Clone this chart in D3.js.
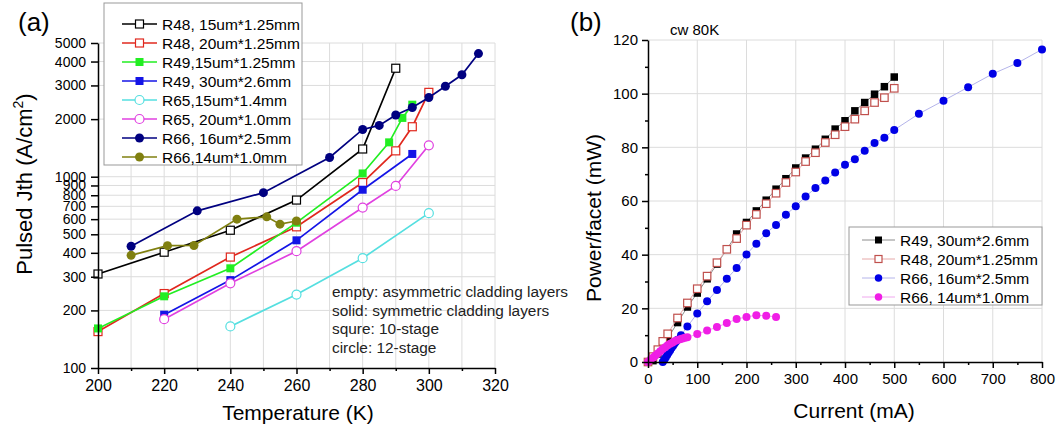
<!DOCTYPE html>
<html>
<head>
<meta charset="utf-8">
<script src="https://cdn.jsdelivr.net/npm/d3@7"></script>
<style>
body { margin: 0; background: #fff; }
text { font-family: "Liberation Sans", Arial, sans-serif; }
</style>
</head>
<body>
<svg id="chart" width="1057" height="429"></svg>
<script>
// ===== panel (a) : pulsed threshold vs temperature
var r48a_T = [200, 220, 240, 260, 280, 290];
var r48a_J = [310, 403, 525, 755, 1396, 3690];
var r48b_T = [200, 220, 240, 260, 280, 290, 295, 300];
var r48b_J = [155, 245, 380, 547, 932, 1365, 1825, 2760];
var r49a_T = [200, 220, 240, 260, 280, 288, 292, 295];
var r49a_J = [161, 237, 332, 575, 1040, 1512, 2029, 2380];
var r49b_T = [220, 240, 260, 280, 295];
var r49b_J = [190, 288, 465, 855, 1315];
var r65a_T = [240, 260, 280, 300];
var r65a_J = [165, 242, 375, 645];
var r65b_T = [220, 240, 260, 280, 290, 300];
var r65b_J = [180, 277, 408, 690, 895, 1459];
var r66a_T = [210, 230, 250, 270, 280, 285, 290, 295, 300, 305, 310, 315];
var r66a_J = [433, 663, 825, 1260, 1766, 1854, 2103, 2299, 2596, 2970, 3411, 4402];
var r66b_T = [210, 221, 229, 242, 251, 255, 260];
var r66b_J = [388, 436, 437, 600, 617, 565, 587];

var tempTicks = [200, 220, 240, 260, 280, 300, 320];
var jthTicks = [100, 200, 300, 400, 500, 600, 700, 800, 900, 1000, 2000, 3000, 4000, 5000];
var notes = ["empty: asymmetric cladding layers", "solid: symmetric cladding layers",
             "squre: 10-stage", "circle:  12-stage"];

// ===== panel (b) : cw power vs current at 80K
var b49_I = [10, 20, 30, 40, 60, 80, 100, 120, 140, 160, 180, 200, 220, 240, 260, 280, 300, 320, 340, 360, 380, 400, 420, 440, 460, 480, 500];
var b49_P = [0.5, 3, 5.8, 8.8, 14.7, 20.5, 25.7, 31, 36.5, 42, 47.7, 52, 56.3, 60.3, 64.4, 68.3, 72.3, 76, 79.3, 83, 86.8, 89.9, 93.6, 96.7, 99.8, 102.6, 106.2];
var b48_I = [0, 10, 20, 30, 40, 60, 80, 100, 120, 140, 160, 180, 200, 220, 240, 260, 280, 300, 320, 340, 360, 380, 400, 420, 440, 460, 480, 500];
var b48_P = [0, 2, 4.6, 7.7, 10.5, 16.4, 22, 27.3, 32, 37, 42, 46, 51, 55, 59, 62.9, 66.9, 70.8, 74.7, 78, 81.8, 84.7, 87.7, 90.5, 93.6, 96.7, 98.5, 102];
var b66a_I = [30, 33, 36, 39, 42, 45, 48, 51, 54, 57, 60, 67, 80, 100, 120, 140, 160, 180, 200, 220, 240, 260, 280, 300, 320, 340, 360, 380, 400, 420, 440, 460, 480, 500, 550, 600, 650, 700, 750, 800];
var b66a_P = [0, 0.8, 1.7, 2.6, 3.5, 4.4, 5.3, 6.1, 6.9, 7.6, 8.3, 10, 13.2, 18.1, 22.6, 26.8, 31, 35, 40.1, 44.1, 48, 51.1, 54.9, 58, 61.7, 64.8, 67.6, 70.6, 73.5, 75.6, 78.7, 81.6, 83.6, 86.5, 92.5, 97.4, 102.4, 107.4, 111.4, 116.5];
var b66b_I = [0, 5, 10, 15, 20, 25, 30, 35, 40, 45, 50, 55, 60, 65, 70, 75, 80, 100, 120, 140, 160, 180, 200, 220, 240, 260];
var b66b_P = [0, 0.8, 1.6, 2.4, 3.2, 4, 4.8, 5.5, 6.2, 6.8, 7.3, 7.8, 8.2, 8.5, 8.8, 9, 9.2, 10.4, 11.7, 13, 14.5, 16, 16.8, 17.4, 17.2, 16.8];

var currentTicks = [0, 100, 200, 300, 400, 500, 600, 700, 800];
var powerTicks = [0, 20, 40, 60, 80, 100, 120];

var svg = d3.select("#chart");
var grid = "#dcdcdc";

function zip(a, b) {
    return a.map(function (d, i) { return [d, b[i]]; });
}

// draw one marker (square or circle, open or filled)
function marker(g, shape, x, y, size, color, open) {
    if (shape == "square") {
        g.append("rect")
            .attr("x", x - size / 2).attr("y", y - size / 2)
            .attr("width", size).attr("height", size)
            .attr("fill", open ? "#fff" : color)
            .attr("stroke", open ? color : "none")
            .attr("stroke-width", 1.2);
    } else {
        g.append("circle")
            .attr("cx", x).attr("cy", y).attr("r", size / 2)
            .attr("fill", open ? "#fff" : color)
            .attr("stroke", open ? color : "none")
            .attr("stroke-width", 1.2);
    }
}

//================ panel (a)
var xT = d3.scaleLinear().domain([200, 320]).range([98, 495]);
var yJ = d3.scaleLog().domain([100, 5000]).range([368, 43]);

var ga = svg.append("g");

// grid
d3.range(210, 321, 10).forEach(function (t) {
    ga.append("line").attr("x1", xT(t)).attr("x2", xT(t))
        .attr("y1", yJ(5000)).attr("y2", yJ(100))
        .attr("stroke", grid).attr("stroke-width", 1);
});
jthTicks.slice(1).forEach(function (v) {
    ga.append("line").attr("x1", xT(200)).attr("x2", xT(320))
        .attr("y1", yJ(v)).attr("y2", yJ(v))
        .attr("stroke", grid).attr("stroke-width", 1);
});

var seriesA = [
    {name: "R48, 15um*1.25mm", T: r48a_T, J: r48a_J, color: "#000000", shape: "square", open: true},
    {name: "R48, 20um*1.25mm", T: r48b_T, J: r48b_J, color: "#e0281e", shape: "square", open: true},
    {name: "R49,15um*1.25mm", T: r49a_T, J: r49a_J, color: "#22ee22", shape: "square", open: false},
    {name: "R49, 30um*2.6mm", T: r49b_T, J: r49b_J, color: "#1414e6", shape: "square", open: false},
    {name: "R65,15um*1.4mm", T: r65a_T, J: r65a_J, color: "#55dfe0", shape: "circle", open: true},
    {name: "R65, 20um*1.0mm", T: r65b_T, J: r65b_J, color: "#e040e0", shape: "circle", open: true},
    {name: "R66, 16um*2.5mm", T: r66a_T, J: r66a_J, color: "#000080", shape: "circle", open: false},
    {name: "R66,14um*1.0mm", T: r66b_T, J: r66b_J, color: "#808010", shape: "circle", open: false}
];

var lineA = d3.line()
    .x(function (d) { return xT(d[0]); })
    .y(function (d) { return yJ(d[1]); });

seriesA.forEach(function (s) {
    var pts = zip(s.T, s.J);
    ga.append("path").datum(pts)
        .attr("fill", "none").attr("stroke", s.color).attr("stroke-width", 1.7)
        .attr("d", lineA);
    pts.forEach(function (p) {
        marker(ga, s.shape, xT(p[0]), yJ(p[1]), s.shape == "square" ? 8 : 9, s.color, s.open);
    });
});

// axes
ga.append("g")
    .attr("transform", "translate(0," + yJ(100) + ")")
    .call(d3.axisBottom(xT).tickValues(d3.range(210, 320, 20)).tickSize(3).tickFormat(""))
    .call(function (g) { g.select(".domain").remove(); });
var axA = ga.append("g")
    .attr("transform", "translate(0," + yJ(100) + ")")
    .call(d3.axisBottom(xT).tickValues(tempTicks).tickSize(6).tickSizeOuter(0).tickPadding(6));
axA.selectAll("text").attr("font-size", 16).attr("fill", "#000");
var ayA = ga.append("g")
    .attr("transform", "translate(" + xT(200) + ",0)")
    .call(d3.axisLeft(yJ).tickValues(jthTicks).tickFormat(d3.format("d")).tickSize(7).tickSizeOuter(0).tickPadding(5));
ayA.selectAll("text").attr("font-size", 14).attr("fill", "#000");
ga.selectAll(".domain, .tick line").attr("stroke", "#000").attr("stroke-width", 1.5);

ga.append("text").attr("x", 298).attr("y", 420).attr("text-anchor", "middle")
    .attr("font-size", 21).text("Temperature (K)");
var yl = ga.append("text").attr("transform", "translate(32,184) rotate(-90)")
    .attr("text-anchor", "middle").attr("font-size", 22);
yl.append("tspan").text("Pulsed Jth (A/cm");
yl.append("tspan").attr("dy", -9).attr("font-size", 14).text("2");
yl.append("tspan").attr("dy", 9).text(")");
ga.append("text").attr("x", 18).attr("y", 31).attr("font-size", 26).text("(a)");

notes.forEach(function (t, i) {
    ga.append("text").attr("x", 332).attr("y", 297 + i * 18.5)
        .attr("font-size", 15.4).attr("fill", "#222").text(t);
});

// legend (a)
var lgA = ga.append("g");
lgA.append("rect").attr("x", 104).attr("y", 3).attr("width", 198).attr("height", 162)
    .attr("fill", "#fff").attr("stroke", "#999").attr("stroke-width", 1);
seriesA.forEach(function (s, i) {
    var y = 24 + i * 19;
    lgA.append("line").attr("x1", 122).attr("x2", 157).attr("y1", y).attr("y2", y)
        .attr("stroke", s.color).attr("stroke-width", 1.7);
    marker(lgA, s.shape, 139.5, y, s.shape == "square" ? 8 : 9, s.color, s.open);
    lgA.append("text").attr("x", 162).attr("y", y + 5.5).attr("font-size", 15.5).text(s.name);
});

//================ panel (b)
var xI = d3.scaleLinear().domain([0, 800]).range([648, 1042]);
var yP = d3.scaleLinear().domain([0, 120]).range([362, 40]);

var gb = svg.append("g");

currentTicks.slice(1).forEach(function (v) {
    gb.append("line").attr("x1", xI(v)).attr("x2", xI(v))
        .attr("y1", yP(120)).attr("y2", yP(0))
        .attr("stroke", grid).attr("stroke-width", 1);
});
powerTicks.slice(1).forEach(function (v) {
    gb.append("line").attr("x1", xI(0)).attr("x2", xI(800))
        .attr("y1", yP(v)).attr("y2", yP(v))
        .attr("stroke", grid).attr("stroke-width", 1);
});

var seriesB = [
    {name: "R49, 30um*2.6mm", I: b49_I, P: b49_P, color: "#000000", line: "#8c8c8c", shape: "square", open: false},
    {name: "R48, 20um*1.25mm", I: b48_I, P: b48_P, color: "#c0504d", line: "#e6a8a8", shape: "square", open: true},
    {name: "R66, 16um*2.5mm", I: b66a_I, P: b66a_P, color: "#0000e6", line: "#b4b4ea", shape: "circle", open: false},
    {name: "R66, 14um*1.0mm", I: b66b_I, P: b66b_P, color: "#f01ee6", line: "#f0a8ee", shape: "circle", open: false}
];

var lineB = d3.line()
    .x(function (d) { return xI(d[0]); })
    .y(function (d) { return yP(d[1]); });

seriesB.forEach(function (s) {
    var pts = zip(s.I, s.P);
    gb.append("path").datum(pts)
        .attr("fill", "none").attr("stroke", s.line).attr("stroke-width", 1)
        .attr("d", lineB);
    pts.forEach(function (p) {
        marker(gb, s.shape, xI(p[0]), yP(p[1]), s.shape == "square" ? 7.5 : 8, s.color, s.open);
    });
});

gb.append("g")
    .attr("transform", "translate(0," + yP(0) + ")")
    .call(d3.axisBottom(xI).tickValues(d3.range(50, 800, 100)).tickSize(3).tickFormat(""))
    .call(function (g) { g.select(".domain").remove(); });
gb.append("g")
    .attr("transform", "translate(" + xI(0) + ",0)")
    .call(d3.axisLeft(yP).tickValues(d3.range(10, 120, 20)).tickSize(3).tickFormat(""))
    .call(function (g) { g.select(".domain").remove(); });
var axB = gb.append("g")
    .attr("transform", "translate(0," + yP(0) + ")")
    .call(d3.axisBottom(xI).tickValues(currentTicks).tickSize(6).tickSizeOuter(0).tickPadding(5));
axB.selectAll("text").attr("font-size", 15).attr("fill", "#000");
var ayB = gb.append("g")
    .attr("transform", "translate(" + xI(0) + ",0)")
    .call(d3.axisLeft(yP).tickValues(powerTicks).tickSize(6).tickSizeOuter(0).tickPadding(4));
ayB.selectAll("text").attr("font-size", 15).attr("fill", "#000");
gb.selectAll(".domain, .tick line").attr("stroke", "#000").attr("stroke-width", 1.5);

gb.append("text").attr("x", 854).attr("y", 418).attr("text-anchor", "middle")
    .attr("font-size", 21).text("Current (mA)");
gb.append("text").attr("transform", "translate(601,218) rotate(-90)")
    .attr("text-anchor", "middle").attr("font-size", 21).text("Power/facet (mW)");
gb.append("text").attr("x", 570).attr("y", 31).attr("font-size", 26).text("(b)");
gb.append("text").attr("x", 670).attr("y", 35).attr("font-size", 15).text("cw 80K");

// legend (b)
var lgB = gb.append("g");
lgB.append("rect").attr("x", 849).attr("y", 227).attr("width", 193).attr("height", 78)
    .attr("fill", "#fff").attr("stroke", "#999").attr("stroke-width", 1);
seriesB.forEach(function (s, i) {
    var y = 240 + i * 19;
    lgB.append("line").attr("x1", 862).attr("x2", 895).attr("y1", y).attr("y2", y)
        .attr("stroke", s.line).attr("stroke-width", 1);
    marker(lgB, s.shape, 878.5, y, s.shape == "square" ? 7 : 7.5, s.color, s.open);
    lgB.append("text").attr("x", 900).attr("y", y + 5.5).attr("font-size", 15.5).text(s.name);
});
</script>
</body>
</html>
